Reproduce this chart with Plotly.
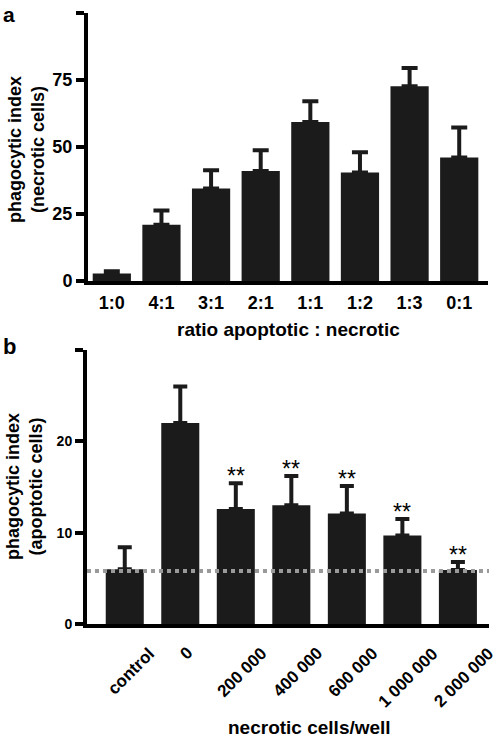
import plotly.graph_objects as go

# ---- data ----
ratio_labels = ["1:0", "4:1", "3:1", "2:1", "1:1", "1:2", "1:3", "0:1"]
necrotic_index = [2.8, 21.0, 34.5, 41.0, 59.3, 40.5, 72.7, 46.1]
necrotic_err = [0.8, 5.3, 6.8, 7.8, 7.8, 7.5, 6.8, 11.2]

dose_labels = ["control", "0", "200 000", "400 000", "600 000", "1 000 000", "2 000 000"]
apoptotic_index = [6.0, 22.0, 12.6, 13.0, 12.1, 9.7, 5.9]
apoptotic_err = [2.4, 4.0, 2.8, 3.2, 3.0, 1.8, 0.9]
significance = ["", "", "**", "**", "**", "**", "**"]
control_baseline = 5.8

yticks_a = [0, 25, 50, 75, 100]
yticks_b = [0, 10, 20, 30]

W, H = 500, 737
FONT = "Liberation Sans, Arial, sans-serif"
BAR = "#1b1b1b"


def px(x):
    return x / W


def py(y):
    return 1 - y / H


fig = go.Figure()

fig.add_trace(go.Bar(
    x=ratio_labels, y=necrotic_index, xaxis="x", yaxis="y",
    marker=dict(color=BAR, line=dict(width=0)), width=0.77,
    error_y=dict(type="data", symmetric=False, array=necrotic_err,
                 arrayminus=[0] * len(necrotic_err), color=BAR,
                 thickness=4, width=8),
    showlegend=False,
))

fig.add_trace(go.Bar(
    x=dose_labels, y=apoptotic_index, xaxis="x2", yaxis="y2",
    marker=dict(color=BAR, line=dict(width=0)), width=0.685,
    error_y=dict(type="data", symmetric=False, array=apoptotic_err,
                 arrayminus=[0] * len(apoptotic_err), color=BAR,
                 thickness=4, width=7),
    showlegend=False,
))

axis_common = dict(showgrid=False, zeroline=False, showline=True,
                   linecolor="black", linewidth=4, automargin=False)

fig.update_layout(
    width=W, height=H,
    margin=dict(l=0, r=0, t=0, b=0, autoexpand=False),
    paper_bgcolor="white", plot_bgcolor="white",
    font=dict(family=FONT, color="black"),
    bargap=0.2,
    xaxis=dict(domain=[px(88), px(488)], anchor="y", type="category",
               range=[-0.48, 7.58], ticks="", ticklabelstandoff=2,
               tickfont=dict(size=18, weight="bold", family=FONT),
               **axis_common),
    yaxis=dict(domain=[py(281), py(13)], anchor="x", range=[0, 100],
               tickmode="array", tickvals=yticks_a,
               ticktext=[str(v) if v < 100 else "" for v in yticks_a],
               ticks="outside", ticklen=8, tickwidth=4, tickcolor="black",
               tickfont=dict(size=18, weight="bold", family=FONT),
               **axis_common),
    xaxis2=dict(domain=[px(87), px(489)], anchor="y2", type="category",
                range=[-0.68, 6.56], ticks="", showticklabels=False,
                **axis_common),
    yaxis2=dict(domain=[py(624), py(350)], anchor="x2", range=[0, 30],
                tickmode="array", tickvals=yticks_b,
                ticktext=[str(v) if v < 30 else "" for v in yticks_b],
                ticks="outside", ticklen=8, tickwidth=4, tickcolor="black",
                tickfont=dict(size=14, weight="bold", family=FONT),
                **axis_common),
)

# dotted control baseline
fig.add_shape(type="line", xref="x2 domain", yref="y2", x0=0, x1=1,
              y0=control_baseline, y1=control_baseline,
              line=dict(color="#9a9a9a", width=4, dash="dot"), layer="above")

ann = []


def paper_text(text, x, y, size, angle=0, xa="center", ya="middle"):
    return dict(text=text, x=px(x), y=py(y), xref="paper", yref="paper",
                xanchor=xa, yanchor=ya, textangle=angle, showarrow=False,
                font=dict(size=size, family=FONT))


# panel letters
ann.append(paper_text("<b>a</b>", 9, 1, 21, ya="top"))
ann.append(paper_text("<b>b</b>", 9, 346, 22))
# axis titles
ann.append(paper_text("<b>phagocytic index<br>(necrotic cells)</b>", 27, 150, 18, -90))
ann.append(paper_text("<b>phagocytic index<br>(apoptotic cells)</b>", 24, 487, 18, -90))
ann.append(paper_text("<b>ratio apoptotic : necrotic</b>", 288, 330, 19))
ann.append(paper_text("<b>necrotic cells/well</b>", 309, 727, 19))
# rotated category labels for panel b (positioned by category index on x2)
for i, lab in enumerate(dose_labels):
    ann.append(dict(text="<b>" + lab + "</b>", x=i, xref="x2", y=py(641), yref="paper",
                    xanchor="center", yanchor="top", textangle=-45, xshift=6,
                    showarrow=False, font=dict(size=17, family=FONT)))
# significance stars
for i, (v, e, s) in enumerate(zip(apoptotic_index, apoptotic_err, significance)):
    if s:
        ann.append(dict(text=s, x=i, xref="x2", y=v + e, yref="y2",
                        xanchor="center", yanchor="bottom", yshift=-8,
                        showarrow=False, font=dict(size=23, family=FONT)))

fig.update_layout(annotations=ann)
fig.write_html("out.html", config={"displayModeBar": False},
               post_script="document.body.style.margin='0';document.body.style.padding='0';")
